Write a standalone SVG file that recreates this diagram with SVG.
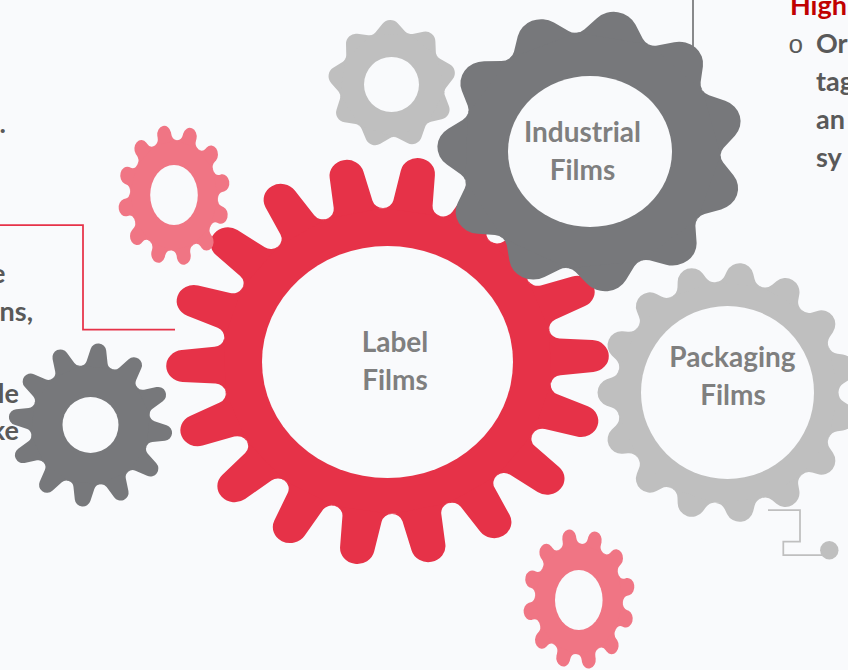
<svg xmlns="http://www.w3.org/2000/svg" width="848" height="670" viewBox="0 0 848 670">
<style>
.bg{fill:#f9fafc}
.red{fill:#e63248}
.pink{fill:#f07584}
.dk{fill:#77787b}
.lt{fill:#bfbfbf}
.hole{fill:#f9fafc}
.lbl{font-family:Lato,"Open Sans",sans-serif;font-weight:700;font-size:28px;fill:#7f7f7f;text-anchor:middle}
.txt{font-family:Lato,"Open Sans",sans-serif;font-weight:700;font-size:27px;fill:#595959}
.end{text-anchor:end}
.hi{fill:#c00000}
.bul{font-family:"Liberation Mono",monospace;font-weight:400;font-size:26px;fill:#595959}
.ln{fill:none;stroke-width:1.75}
</style>
<defs>
<path id="tA" d="M-26.57 -150.68A10 10 0 0 0 -18.33 -159.74L-15.95 -190.24A16 16 0 0 1 15.95 -190.24L18.33 -159.74A10 10 0 0 0 26.57 -150.68Z"/>
<path id="tB" d="M-33.53 -114.18A12 12 0 0 0 -27.11 -118.76L-17.97 -131.7A22 22 0 0 1 17.97 -131.7L27.11 -118.76A12 12 0 0 0 33.53 -114.18Z"/>
<path id="tC" d="M-23.08 -108.57A11 11 0 0 0 -15.02 -115.61L-13.17 -120.74A14 14 0 0 1 13.17 -120.74L15.02 -115.61A11 11 0 0 0 23.08 -108.57Z"/>
<path id="tD" d="M-18.13 -49.8A8 8 0 0 0 -14.78 -52.12L-7.6 -60.5A10 10 0 0 1 7.6 -60.5L14.78 -52.12A8 8 0 0 0 18.13 -49.8Z"/>
<path id="tE" d="M-15.53 -57.96A7 7 0 0 0 -10.5 -63.25L-7.82 -75.68A8 8 0 0 1 7.82 -75.68L10.5 -63.25A7 7 0 0 0 15.53 -57.96Z"/>
<path id="tF" d="M-11.39 -42.5A6 6 0 0 0 -6.95 -48.56L-6.99 -49.7A7 7 0 0 1 6.99 -49.7L6.95 -48.56A6 6 0 0 0 11.39 -42.5Z"/>
<g id="pinkGear">
<circle r="44"/>
<use href="#tF" transform="rotate(18.6)"/><use href="#tF" transform="rotate(48.6)"/><use href="#tF" transform="rotate(78.6)"/><use href="#tF" transform="rotate(108.6)"/><use href="#tF" transform="rotate(138.6)"/><use href="#tF" transform="rotate(168.6)"/><use href="#tF" transform="rotate(198.6)"/><use href="#tF" transform="rotate(228.6)"/><use href="#tF" transform="rotate(258.6)"/><use href="#tF" transform="rotate(288.6)"/><use href="#tF" transform="rotate(318.6)"/><use href="#tF" transform="rotate(348.6)"/>
</g>
</defs>
<rect class="bg" x="0" y="0" width="848" height="670"/>

<g id="connectors">
<path class="ln" stroke="#e63248" d="M0 225H83V329.5H175"/>
<path class="ln" stroke="#77787b" d="M693 0V60"/>
<path class="ln" stroke="#bfbfbf" d="M768 510H800V541.7H783.3V555H822"/>
<circle cx="829.3" cy="550.2" r="9.2" fill="#bfbfbf"/>
</g>

<g id="gear-small-light">
<g class="lt" transform="translate(392 84)">
<circle r="53"/>
<use href="#tD" transform="rotate(-1.8)"/><use href="#tD" transform="rotate(38.2)"/><use href="#tD" transform="rotate(78.2)"/><use href="#tD" transform="rotate(118.2)"/><use href="#tD" transform="rotate(158.2)"/><use href="#tD" transform="rotate(198.2)"/><use href="#tD" transform="rotate(238.2)"/><use href="#tD" transform="rotate(278.2)"/><use href="#tD" transform="rotate(318.2)"/>
</g>
<circle class="hole" cx="391.5" cy="84.5" r="27.5"/>
</g>

<g id="gear-small-dark">
<g class="dk" transform="translate(90.5 425)">
<circle r="60"/>
<use href="#tE" transform="rotate(6)"/><use href="#tE" transform="rotate(36)"/><use href="#tE" transform="rotate(66)"/><use href="#tE" transform="rotate(96)"/><use href="#tE" transform="rotate(126)"/><use href="#tE" transform="rotate(156)"/><use href="#tE" transform="rotate(186)"/><use href="#tE" transform="rotate(216)"/><use href="#tE" transform="rotate(246)"/><use href="#tE" transform="rotate(276)"/><use href="#tE" transform="rotate(306)"/><use href="#tE" transform="rotate(336)"/>
</g>
<circle class="hole" cx="90.5" cy="425" r="28"/>
</g>

<g id="label-films">
<g class="red" transform="translate(387.5 361) scale(1.08 1)">
<circle r="153"/>
<use href="#tA" transform="rotate(8.5)"/><use href="#tA" transform="rotate(28.5)"/><use href="#tA" transform="rotate(48.5)"/><use href="#tA" transform="rotate(68.5)"/><use href="#tA" transform="rotate(88.5)"/><use href="#tA" transform="rotate(108.5)"/><use href="#tA" transform="rotate(128.5)"/><use href="#tA" transform="rotate(148.5)"/><use href="#tA" transform="rotate(168.5)"/><use href="#tA" transform="rotate(188.5)"/><use href="#tA" transform="rotate(208.5)"/><use href="#tA" transform="rotate(228.5)"/><use href="#tA" transform="rotate(248.5)"/><use href="#tA" transform="rotate(268.5)"/><use href="#tA" transform="rotate(288.5)"/><use href="#tA" transform="rotate(308.5)"/><use href="#tA" transform="rotate(328.5)"/><use href="#tA" transform="rotate(348.5)"/>
</g>
<ellipse class="hole" cx="387.5" cy="362" rx="125.5" ry="116"/>
<text class="lbl" x="395" y="352">Label</text>
<text class="lbl" x="395" y="390">Films</text>
</g>

<g id="gear-pink-top">
<g class="pink" transform="translate(174 195.3) scale(1 1.255)"><use href="#pinkGear"/></g>
<ellipse class="hole" cx="174" cy="195" rx="23.8" ry="30"/>
</g>

<g id="industrial-films">
<g class="dk" transform="translate(591 151) scale(1.09 1)">
<circle r="119"/>
<use href="#tB" transform="rotate(10.1)"/><use href="#tB" transform="rotate(42.8)"/><use href="#tB" transform="rotate(75.6)"/><use href="#tB" transform="rotate(108.3)"/><use href="#tB" transform="rotate(141)"/><use href="#tB" transform="rotate(173.8)"/><use href="#tB" transform="rotate(206.5)"/><use href="#tB" transform="rotate(239.2)"/><use href="#tB" transform="rotate(271.9)"/><use href="#tB" transform="rotate(304.7)"/><use href="#tB" transform="rotate(337.4)"/>
</g>
<ellipse class="hole" cx="590" cy="151.5" rx="82" ry="75.5"/>
<text class="lbl" x="582.5" y="142">Industrial</text>
<text class="lbl" x="582.5" y="180">Films</text>
</g>

<g id="packaging-films">
<g class="lt" transform="translate(727.5 392.5)">
<circle r="111"/>
<use href="#tC" transform="rotate(6)"/><use href="#tC" transform="rotate(30)"/><use href="#tC" transform="rotate(54)"/><use href="#tC" transform="rotate(78)"/><use href="#tC" transform="rotate(102)"/><use href="#tC" transform="rotate(126)"/><use href="#tC" transform="rotate(150)"/><use href="#tC" transform="rotate(174)"/><use href="#tC" transform="rotate(198)"/><use href="#tC" transform="rotate(222)"/><use href="#tC" transform="rotate(246)"/><use href="#tC" transform="rotate(270)"/><use href="#tC" transform="rotate(294)"/><use href="#tC" transform="rotate(318)"/><use href="#tC" transform="rotate(342)"/>
</g>
<circle class="hole" cx="727.5" cy="392.5" r="86.5"/>
<text class="lbl" x="732.5" y="367">Packaging</text>
<text class="lbl" x="733" y="405">Films</text>
</g>

<g id="gear-pink-bottom">
<g class="pink" transform="translate(579 599) scale(1 1.255)"><use href="#pinkGear"/></g>
<ellipse class="hole" cx="578.8" cy="600" rx="23.8" ry="30"/>
</g>

<g id="text-left">
<text class="txt end" x="6" y="133">.</text>
<text class="txt end" x="5.5" y="283">e</text>
<text class="txt end" x="33" y="321">ns,</text>
<text class="txt end" x="19" y="403">le</text>
<text class="txt end" x="19" y="440">ke</text>
</g>

<g id="text-right">
<text class="txt hi" x="790" y="15">High</text>
<text class="bul" x="788" y="53">o</text>
<text class="txt" x="816" y="53">Or</text>
<text class="txt" x="816" y="91">tag</text>
<text class="txt" x="816" y="129">an</text>
<text class="txt" x="816" y="167">sy</text>
</g>
</svg>
